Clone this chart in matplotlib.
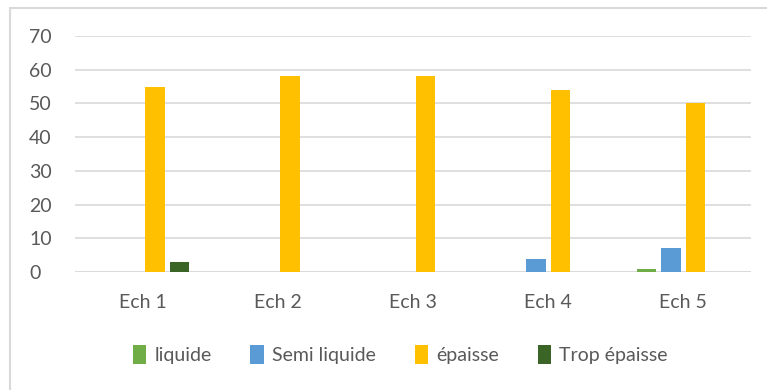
import numpy as np
import matplotlib
matplotlib.use('Agg')
import matplotlib.pyplot as plt
import matplotlib.patches as mpatches

plt.rcParams['font.family'] = ['Lato', 'DejaVu Sans']

categories = ['Ech 1', 'Ech 2', 'Ech 3', 'Ech 4', 'Ech 5']
series_names = ['liquide', 'Semi liquide', 'épaisse', 'Trop épaisse']
liquide = [0, 0, 0, 0, 1]
semi_liquide = [0, 0, 0, 4, 7]
epaisse = [55, 58, 58, 54, 50]
trop_epaisse = [3, 0, 0, 0, 0]
colors = ['#70AD47', '#5B9BD5', '#FFC000', '#3B6427']

W, H = 767, 390
fig = plt.figure(figsize=(W / 100, H / 100), dpi=100)
ax = fig.add_axes([75 / W, 1 - 272 / H, 676 / W, 236 / H])

# chart frame (Excel style)
fig.patches.append(mpatches.Rectangle((10 / W, -0.1), 1.2, 1 - 8 / H + 0.1,
                                      transform=fig.transFigure, fill=False,
                                      edgecolor='#D9D9D9', linewidth=1.5))

x = np.arange(len(categories))
pitch = 0.181
width = 0.144
all_vals = [liquide, semi_liquide, epaisse, trop_epaisse]
for i, (vals, name, col) in enumerate(zip(all_vals, series_names, colors)):
    ax.bar(x + (i - 1.5) * pitch, vals, width, color=col, label=name, zorder=3)

ax.set_xlim(-0.5, len(categories) - 0.5)
ax.set_ylim(0, 70)
ax.set_yticks(range(0, 71, 10))
ax.grid(axis='y', color='#D9D9D9', linewidth=1.2, zorder=0)
for s in ax.spines.values():
    s.set_visible(False)
ax.axhline(0, color='#D9D9D9', linewidth=1.2, zorder=1)
ax.set_xticks(x)
ax.set_xticklabels(categories)
ax.tick_params(axis='both', length=0, labelsize=14, colors='#595959')
ax.tick_params(axis='x', pad=16)
ax.tick_params(axis='y', pad=46 * 72 / 100)
for lbl in ax.get_yticklabels():
    lbl.set_horizontalalignment('left')

ax.legend(loc='center', bbox_to_anchor=(0.481, -0.35), ncol=4, frameon=False,
          fontsize=14, labelcolor='#595959', handlelength=0.7, handleheight=1.1,
          handletextpad=0.4, columnspacing=2.0)

fig.savefig('out.png', dpi=100)
